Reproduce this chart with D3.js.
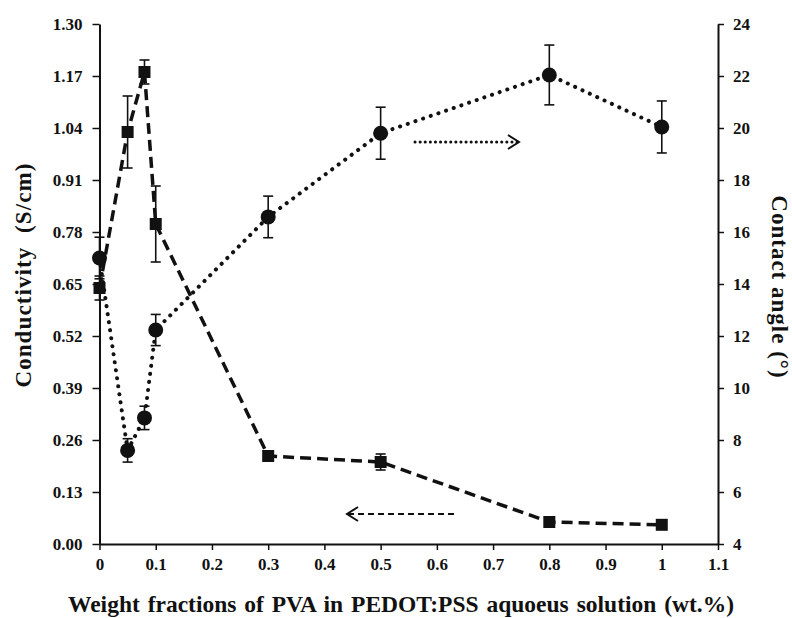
<!DOCTYPE html>
<html><head><meta charset="utf-8">
<script src="https://cdn.jsdelivr.net/npm/d3@7"></script>
<style>body{margin:0;background:#fff}svg{display:block}</style>
</head><body>
<svg id="c" width="792" height="618"></svg>
<script>
const xVals = [0, 0.05, 0.08, 0.1, 0.3, 0.5, 0.8, 1];
const conductivity = [0.64, 1.03, 1.18, 0.80, 0.22, 0.205, 0.055, 0.048];
const conductivityErr = [0.03, 0.09, 0.03, 0.095, 0.008, 0.02, 0.008, 0.006];
const contactAngle = [15.0, 7.6, 8.85, 12.23, 16.58, 19.8, 22.04, 20.04];
const contactAngleErr = [0.8, 0.45, 0.45, 0.6, 0.8, 1.0, 1.15, 1.0];
const xTicks = [0, 0.1, 0.2, 0.3, 0.4, 0.5, 0.6, 0.7, 0.8, 0.9, 1, 1.1];
const yLeftTicks = [0, 0.13, 0.26, 0.39, 0.52, 0.65, 0.78, 0.91, 1.04, 1.17, 1.30];
const yRightTicks = [4, 6, 8, 10, 12, 14, 16, 18, 20, 22, 24];

const svg = d3.select("#c");
const L = 99.5, R = 718, T = 24, B = 544;
const x = d3.scaleLinear().domain([0, 1.1]).range([L, R]);
const yL = d3.scaleLinear().domain([0, 1.3]).range([B, T]);
const yR = d3.scaleLinear().domain([4, 24]).range([B, T]);
const font = "'Liberation Serif', 'DejaVu Serif', serif";

function styleAxis(g){
  g.selectAll("path.domain").attr("stroke","#111").attr("stroke-width",2);
  g.selectAll(".tick line").attr("stroke","#111").attr("stroke-width",1.5);
  g.selectAll(".tick text").attr("font-family",font).attr("font-weight","bold").attr("font-size","17px").attr("fill","#111");
}
const gx = svg.append("g").attr("transform",`translate(0,${B})`)
  .call(d3.axisBottom(x).tickValues(xTicks).tickSize(6).tickSizeOuter(0).tickPadding(8).tickFormat(d=>d3.format("")(+d.toFixed(1))));
styleAxis(gx);
const gl = svg.append("g").attr("transform",`translate(${L},0)`)
  .call(d3.axisLeft(yL).tickValues(yLeftTicks).tickSize(7).tickSizeOuter(0).tickPadding(10).tickFormat(d3.format(".2f")));
styleAxis(gl);
const gr = svg.append("g").attr("transform",`translate(${R},0)`)
  .call(d3.axisRight(yR).tickValues(yRightTicks).tickSize(6).tickSizeOuter(0).tickPadding(9));
styleAxis(gr);

// lines
const lineC = d3.line().x((d,i)=>x(xVals[i])).y(d=>yL(d));
const lineA = d3.line().x((d,i)=>x(xVals[i])).y(d=>yR(d));
svg.append("path").attr("d",lineA(contactAngle)).attr("fill","none").attr("stroke","#111")
  .attr("stroke-width",4).attr("stroke-linecap","round").attr("stroke-dasharray","0.1 8");
svg.append("path").attr("d",lineC(conductivity)).attr("fill","none").attr("stroke","#111")
  .attr("stroke-width",3.5).attr("stroke-dasharray","11 6");

// error bars
function errBars(vals, errs, y){
  const g = svg.append("g").attr("stroke","#111").attr("stroke-width",1.6);
  vals.forEach((v,i)=>{
    const cx = x(xVals[i]);
    g.append("line").attr("x1",cx).attr("x2",cx).attr("y1",y(v-errs[i])).attr("y2",y(v+errs[i]));
    [v-errs[i], v+errs[i]].forEach(e=>g.append("line").attr("x1",cx-5).attr("x2",cx+5).attr("y1",y(e)).attr("y2",y(e)));
  });
}
errBars(conductivity, conductivityErr, yL);
errBars(contactAngle, contactAngleErr, yR);

// markers
svg.append("g").selectAll("rect").data(conductivity).join("rect")
  .attr("x",(d,i)=>x(xVals[i])-6).attr("y",d=>yL(d)-6).attr("width",12).attr("height",12).attr("fill","#111");
svg.append("g").selectAll("circle").data(contactAngle).join("circle")
  .attr("cx",(d,i)=>x(xVals[i])).attr("cy",d=>yR(d)).attr("r",7.5).attr("fill","#111");

// arrows
svg.append("line").attr("x1",415).attr("x2",518).attr("y1",142).attr("y2",142)
  .attr("stroke","#111").attr("stroke-width",3).attr("stroke-linecap","round").attr("stroke-dasharray","0.1 5");
svg.append("path").attr("d","M508,135 L519,142 L508,149").attr("fill","none").attr("stroke","#111").attr("stroke-width",2);
svg.append("line").attr("x1",348).attr("x2",455).attr("y1",514).attr("y2",514)
  .attr("stroke","#111").attr("stroke-width",2.2).attr("stroke-dasharray","6 4");
svg.append("path").attr("d","M358,507 L347,514 L358,521").attr("fill","none").attr("stroke","#111").attr("stroke-width",2);

// titles
svg.append("text").attr("x",401).attr("y",612).attr("text-anchor","middle")
  .attr("font-family",font).attr("font-weight","bold").attr("font-size","23.5px").attr("fill","#111")
  .attr("word-spacing","2px")
  .text("Weight fractions of PVA in PEDOT:PSS aquoeus solution (wt.%)");
svg.append("text").attr("transform","translate(31,275) rotate(-90)").attr("text-anchor","middle")
  .attr("font-family",font).attr("font-weight","bold").attr("font-size","23px").attr("fill","#111")
  .attr("letter-spacing","1.1px")
  .style("white-space","pre")
  .text("Conductivity  (S/cm)");
svg.append("text").attr("transform","translate(772,287) rotate(90)").attr("text-anchor","middle")
  .attr("font-family",font).attr("font-weight","bold").attr("font-size","23px").attr("fill","#111")
  .attr("letter-spacing","1px")
  .text("Contact angle (°)");
</script>
</body></html>
